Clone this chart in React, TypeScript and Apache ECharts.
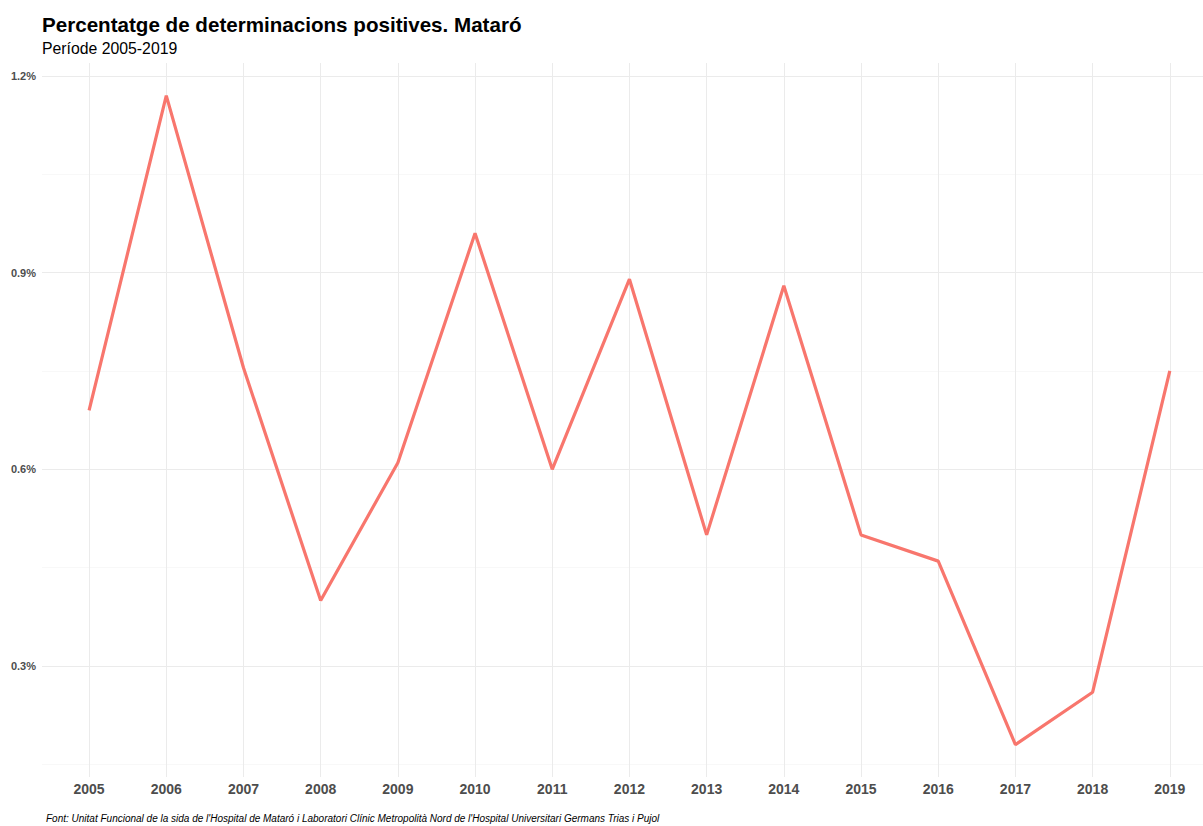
import React, { useEffect, useRef } from "react";
import * as echarts from "echarts";

const years = [2005, 2006, 2007, 2008, 2009, 2010, 2011, 2012, 2013, 2014, 2015, 2016, 2017, 2018, 2019];
const positivePct = [0.69, 1.17, 0.755, 0.40, 0.61, 0.96, 0.60, 0.89, 0.50, 0.88, 0.50, 0.46, 0.18, 0.26, 0.75];
const majorY = [0.3, 0.6, 0.9, 1.2];
const minorY = [0.15, 0.45, 0.75, 1.05];

const title = "Percentatge de determinacions positives. Mataró";
const subtitle = "Període 2005-2019";
const caption = "Font: Unitat Funcional de la sida de l'Hospital de Mataró i Laboratori Clínic Metropolità Nord de l'Hospital Universitari Germans Trias i Pujol";

const FONT = "'Liberation Sans', Arial, Helvetica, sans-serif";

export default function App() {
  const ref = useRef<HTMLDivElement>(null);
  useEffect(() => {
    if (!ref.current) return;
    const chart = echarts.init(ref.current, null, { renderer: "svg" });
    const gridLine = { color: "#ebebeb", width: 1, type: "solid" as const };
    const minorLine = { color: "#f3f3f3", width: 0.6, type: "solid" as const };
    chart.setOption({
      animation: false,
      backgroundColor: "#ffffff",
      textStyle: { fontFamily: FONT },
      title: [
        {
          text: title,
          left: 37,
          top: 9,
          padding: 5,
          textStyle: { fontFamily: FONT, fontSize: 20.6, fontWeight: "bold", color: "#000" },
        },
        {
          text: subtitle,
          left: 37,
          top: 35,
          padding: 5,
          textStyle: { fontFamily: FONT, fontSize: 15.8, fontWeight: "normal", color: "#000" },
        },
        {
          text: caption,
          left: 41,
          top: 808,
          padding: 5,
          textStyle: { fontFamily: FONT, fontSize: 10, fontStyle: "italic", fontWeight: "normal", color: "#000" },
        },
      ],
      grid: { left: 42, right: 0, top: 63, bottom: 49, containLabel: false },
      xAxis: {
        type: "value",
        min: 2004.39,
        max: 2019.43,
        axisLine: { show: false },
        axisTick: { show: false },
        splitLine: { show: false },
        axisLabel: {
          customValues: years,
          formatter: (v: number) => String(Math.round(v)),
          fontFamily: FONT,
          fontSize: 14,
          fontWeight: "bold",
          color: "#4d4d4d",
          margin: 5,
        },
      },
      yAxis: {
        type: "value",
        min: 0.1307,
        max: 1.2198,
        axisLine: { show: false },
        axisTick: { show: false },
        splitLine: { show: false },
        axisLabel: {
          customValues: majorY,
          formatter: (v: number) => v.toFixed(1) + "%",
          fontFamily: FONT,
          fontSize: 11,
          fontWeight: "bold",
          color: "#4d4d4d",
          margin: 6,
        },
      },
      series: [
        {
          type: "line",
          data: [],
          silent: true,
          markLine: {
            silent: true,
            symbol: "none",
            label: { show: false },
            lineStyle: minorLine,
            data: minorY.map((v) => ({ yAxis: v })),
          },
        },
        {
          type: "line",
          data: [],
          silent: true,
          markLine: {
            silent: true,
            symbol: "none",
            label: { show: false },
            lineStyle: gridLine,
            data: [...majorY.map((v) => ({ yAxis: v })), ...years.map((y) => ({ xAxis: y }))],
          },
        },
        {
          type: "line",
          data: years.map((y, i) => [y, positivePct[i]]),
          showSymbol: false,
          symbol: "none",
          lineStyle: { color: "#F8766D", width: 3.2 },
          itemStyle: { color: "#F8766D" },
          z: 5,
        },
      ],
    });
    return () => chart.dispose();
  }, []);
  return (
    <div
      ref={ref}
      style={{ position: "fixed", left: 0, top: 0, width: 1203, height: 826, background: "#fff" }}
    />
  );
}
